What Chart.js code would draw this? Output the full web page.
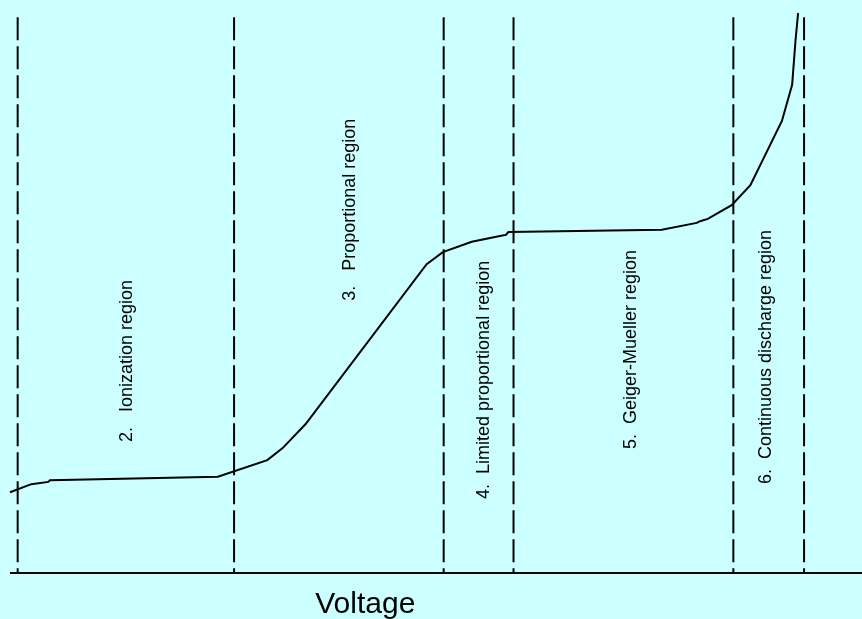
<!DOCTYPE html>
<html lang="en">
<head>
  <meta charset="utf-8">
  <title>Gas detector regions</title>
  <style>
    body { margin: 0; background: #ccffff; }
  </style>
</head>
<body>
  <canvas id="myChart" width="862" height="619"></canvas>

  <script src="https://cdn.jsdelivr.net/npm/chart.js@4/dist/chart.umd.min.js"></script>
  <script>
  // curve (voltage 0-1000, pulse height 0-100)
  var curveV = [0, 25, 45, 47, 244, 302, 320, 347, 489, 508, 542, 575, 582, 585, 765, 806, 810, 819, 847, 869, 906, 918, 922, 925];
  var curveH = [14.1, 15.5, 15.9, 16.2, 16.8, 19.7, 21.8, 26.0, 53.9, 56.0, 57.8, 58.8, 59.0, 59.5, 59.9, 61.1, 61.4, 61.8, 64.2, 67.7, 78.9, 85.2, 93.0, 97.7];

  // region boundaries
  var boundV = [9, 263, 509, 591, 849, 932];
  var boundTop = 97;

  // region labels
  var regionNames = ['2.   Ionization region', '3.   Proportional region', '4.  Limited proportional region', '5.  Geiger-Mueller region', '6.  Continuous discharge region'];
  var regionV = [143, 405, 562, 735, 893];
  var regionH = [37.0, 63.4, 33.7, 39.0, 37.7];

  var axisTitle = 'Voltage';
  var axisTitleV = 417;

  var curvePts = [];
  for (var i = 0; i < curveV.length; i++) {
    curvePts.push({x: curveV[i], y: curveH[i]});
  }

  var datasets = [];
  datasets.push({
    data: curvePts,
    borderColor: '#000',
    borderWidth: 2,
    pointRadius: 0,
    tension: 0,
    clip: false
  });
  for (var j = 0; j < boundV.length; j++) {
    datasets.push({
      data: [{x: boundV[j], y: boundTop}, {x: boundV[j], y: 0}],
      borderColor: '#000',
      borderWidth: 2,
      borderDash: [23, 6],
      pointRadius: 0,
      clip: false
    });
  }
  // horizontal axis
  datasets.push({
    data: [{x: 0, y: 0}, {x: 1000, y: 0}],
    borderColor: '#000',
    borderWidth: 2,
    pointRadius: 0,
    clip: false
  });

  var labelPlugin = {
    id: 'regionLabels',
    afterDatasetsDraw: function(chart) {
      var ctx = chart.ctx;
      var xs = chart.scales.x;
      var ys = chart.scales.y;
      ctx.save();
      ctx.fillStyle = '#000';
      ctx.font = '18px "Liberation Sans", Arial, sans-serif';
      ctx.textAlign = 'center';
      ctx.textBaseline = 'alphabetic';
      for (var k = 0; k < regionNames.length; k++) {
        ctx.save();
        ctx.translate(xs.getPixelForValue(regionV[k]), ys.getPixelForValue(regionH[k]));
        ctx.rotate(-Math.PI / 2);
        ctx.fillText(regionNames[k], 0, 0);
        ctx.restore();
      }
      ctx.font = '30px "Liberation Sans", Arial, sans-serif';
      ctx.fillText(axisTitle, xs.getPixelForValue(axisTitleV), ys.getPixelForValue(0) + 40);
      ctx.restore();
    }
  };

  var ctx = document.getElementById('myChart');
  var myChart = new Chart(ctx, {
    type: 'line',
    data: { datasets: datasets },
    options: {
      responsive: false,
      animation: false,
      layout: { padding: { left: 10, right: 0, top: 0, bottom: 46 } },
      plugins: {
        legend: { display: false },
        tooltip: { enabled: false }
      },
      scales: {
        x: { type: 'linear', min: 0, max: 1000, display: false },
        y: { type: 'linear', min: 0, max: 100, display: false }
      }
    },
    plugins: [labelPlugin]
  });
  </script>
</body>
</html>
